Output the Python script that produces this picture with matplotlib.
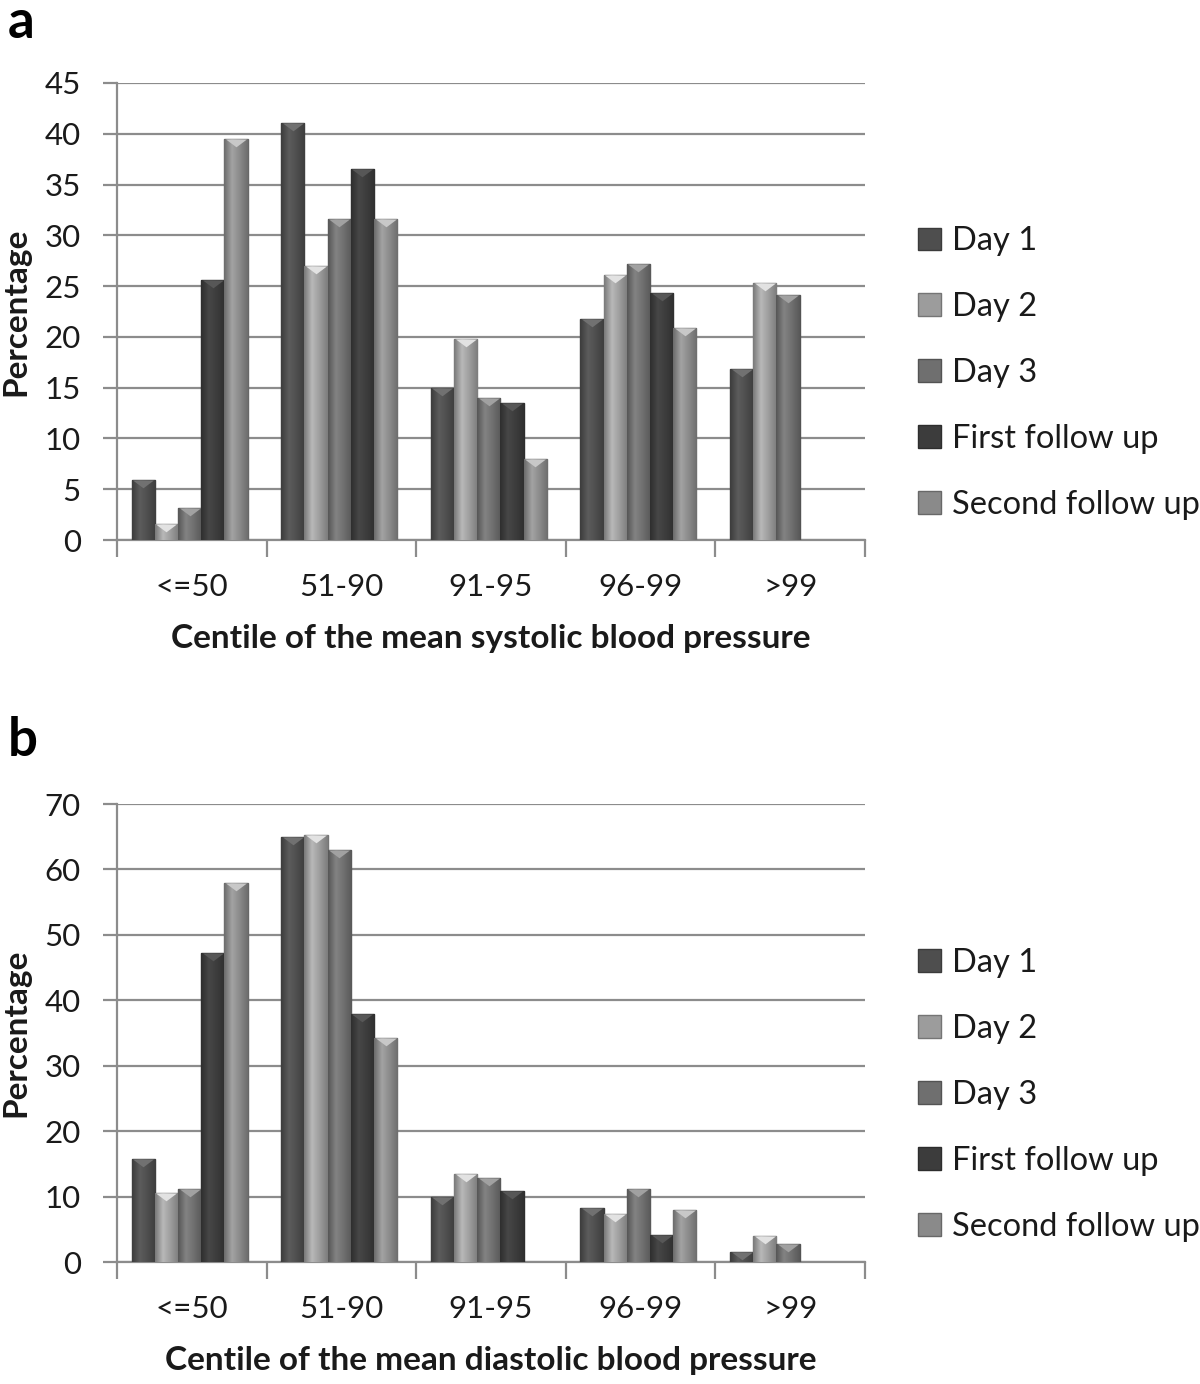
import numpy as np
import matplotlib
matplotlib.use("Agg")
import matplotlib.pyplot as plt
from matplotlib.patches import Patch
from matplotlib.path import Path
from matplotlib.colors import LinearSegmentedColormap, to_rgb

categories = ["<=50", "51-90", "91-95", "96-99", ">99"]
series_names = ["Day 1", "Day 2", "Day 3", "First follow up", "Second follow up"]

# Panel a: systolic
sys_day1 = [5.9, 41.1, 15.0, 21.8, 16.8]
sys_day2 = [1.6, 27.0, 19.8, 26.1, 25.3]
sys_day3 = [3.2, 31.6, 14.0, 27.2, 24.1]
sys_ffu = [25.6, 36.5, 13.5, 24.3, 0.0]
sys_sfu = [39.5, 31.6, 8.0, 20.9, 0.0]

# Panel b: diastolic
dia_day1 = [15.8, 65.0, 9.9, 8.2, 1.5]
dia_day2 = [10.5, 65.3, 13.4, 7.3, 3.9]
dia_day3 = [11.1, 62.9, 12.8, 11.1, 2.7]
dia_ffu = [47.3, 37.9, 10.8, 4.2, 0.0]
dia_sfu = [57.9, 34.2, 0.0, 7.9, 0.0]

colors = ["#4e4e4e", "#9c9c9c", "#6f6f6f", "#3c3c3c", "#8a8a8a"]

plt.rcParams["font.family"] = ["Lato", "DejaVu Sans"]

fig = plt.figure(figsize=(12, 13.84), dpi=100)
W, H = 1200, 1384


def scale(c, f):
    r = np.array(to_rgb(c))
    return tuple(np.clip(r * f, 0, 1))


tri = Path([(-1, 0), (1, 0), (0, -0.75), (-1, 0)],
           [Path.MOVETO, Path.LINETO, Path.LINETO, Path.CLOSEPOLY])


def panel(rect, data, ymax, ystep, xlabel, letter, letter_y):
    ax = fig.add_axes(rect)
    x = np.arange(len(categories))
    w = 0.155
    for i, (vals, c) in enumerate(zip(data, colors)):
        pos = x + (i - 2) * w - 0.015
        bars = ax.bar(pos, vals, width=w, color=c, edgecolor=scale(c, 0.75),
                      linewidth=1.0, zorder=3)
        cmap = LinearSegmentedColormap.from_list(
            "g", [scale(c, 0.78), scale(c, 1.18), scale(c, 1.0), scale(c, 0.8)])
        grad = np.linspace(0, 1, 64).reshape(1, -1)
        for b, v in zip(bars, vals):
            if v <= 0:
                b.set_visible(False)
                continue
            bx, by = b.get_x(), b.get_y()
            im = ax.imshow(grad, cmap=cmap, aspect="auto",
                           extent=(bx, bx + b.get_width(), by, by + b.get_height()),
                           zorder=3.5)
            im.set_clip_path(b)
        vis = [(p, v) for p, v in zip(pos, vals) if v > 0]
        if vis:
            px, pv = zip(*vis)
            ax.plot(px, pv, linestyle="none", marker=tri, markersize=15,
                    markerfacecolor=scale(c, 1.45), markeredgecolor="none",
                    zorder=4)
    ax.set_xlim(-0.5, len(categories) - 0.5)
    ax.set_ylim(0, ymax)
    ax.set_yticks(np.arange(0, ymax + 1, ystep))
    ax.grid(axis="y", color="#8c8c8c", linewidth=1.6, zorder=0)
    ax.set_axisbelow(True)
    for s in ["top", "right"]:
        ax.spines[s].set_visible(False)
    for s in ["left", "bottom"]:
        ax.spines[s].set_color("#8c8c8c")
        ax.spines[s].set_linewidth(1.6)
    ax.set_xticks(np.arange(len(categories) + 1) - 0.5)
    ax.set_xticklabels([])
    ax.set_xticks(x, minor=True)
    ax.set_xticklabels(categories, minor=True)
    ax.tick_params(axis="x", which="major", length=12, width=1.6, color="#8c8c8c")
    ax.tick_params(axis="x", which="minor", length=0, pad=24, labelsize=22.5,
                   labelcolor="#1a1a1a")
    ax.tick_params(axis="y", length=10, width=1.6, color="#8c8c8c", pad=16,
                   labelsize=22.5, labelcolor="#1a1a1a")
    ax.set_xlabel(xlabel, fontsize=24, fontweight="bold", labelpad=16,
                  color="#1a1a1a")
    ax.set_ylabel("Percentage", fontsize=24, fontweight="bold", color="#1a1a1a")
    ax.yaxis.set_label_coords(-0.116, 0.5)
    handles = [Patch(facecolor=c, edgecolor=scale(c, 0.75)) for c in colors]
    ax.legend(handles, series_names, loc="center left",
              bbox_to_anchor=(1.053, 0.365), frameon=False, fontsize=23.5,
              handlelength=0.7, handleheight=0.7, handletextpad=0.35,
              labelspacing=1.1, labelcolor="#1a1a1a", borderaxespad=0.0)
    fig.text(8 / W, 1 - letter_y / H, letter, fontsize=38, fontweight="bold",
             va="baseline", ha="left")
    return ax


panel([117 / W, 1 - 540 / H, 748 / W, 457 / H],
      [sys_day1, sys_day2, sys_day3, sys_ffu, sys_sfu], 45, 5,
      "Centile of the mean systolic blood pressure", "a", 38)
panel([117 / W, 1 - 1262 / H, 748 / W, 458 / H],
      [dia_day1, dia_day2, dia_day3, dia_ffu, dia_sfu], 70, 10,
      "Centile of the mean diastolic blood pressure", "b", 756)

fig.savefig("out.png", dpi=100, facecolor="white")
